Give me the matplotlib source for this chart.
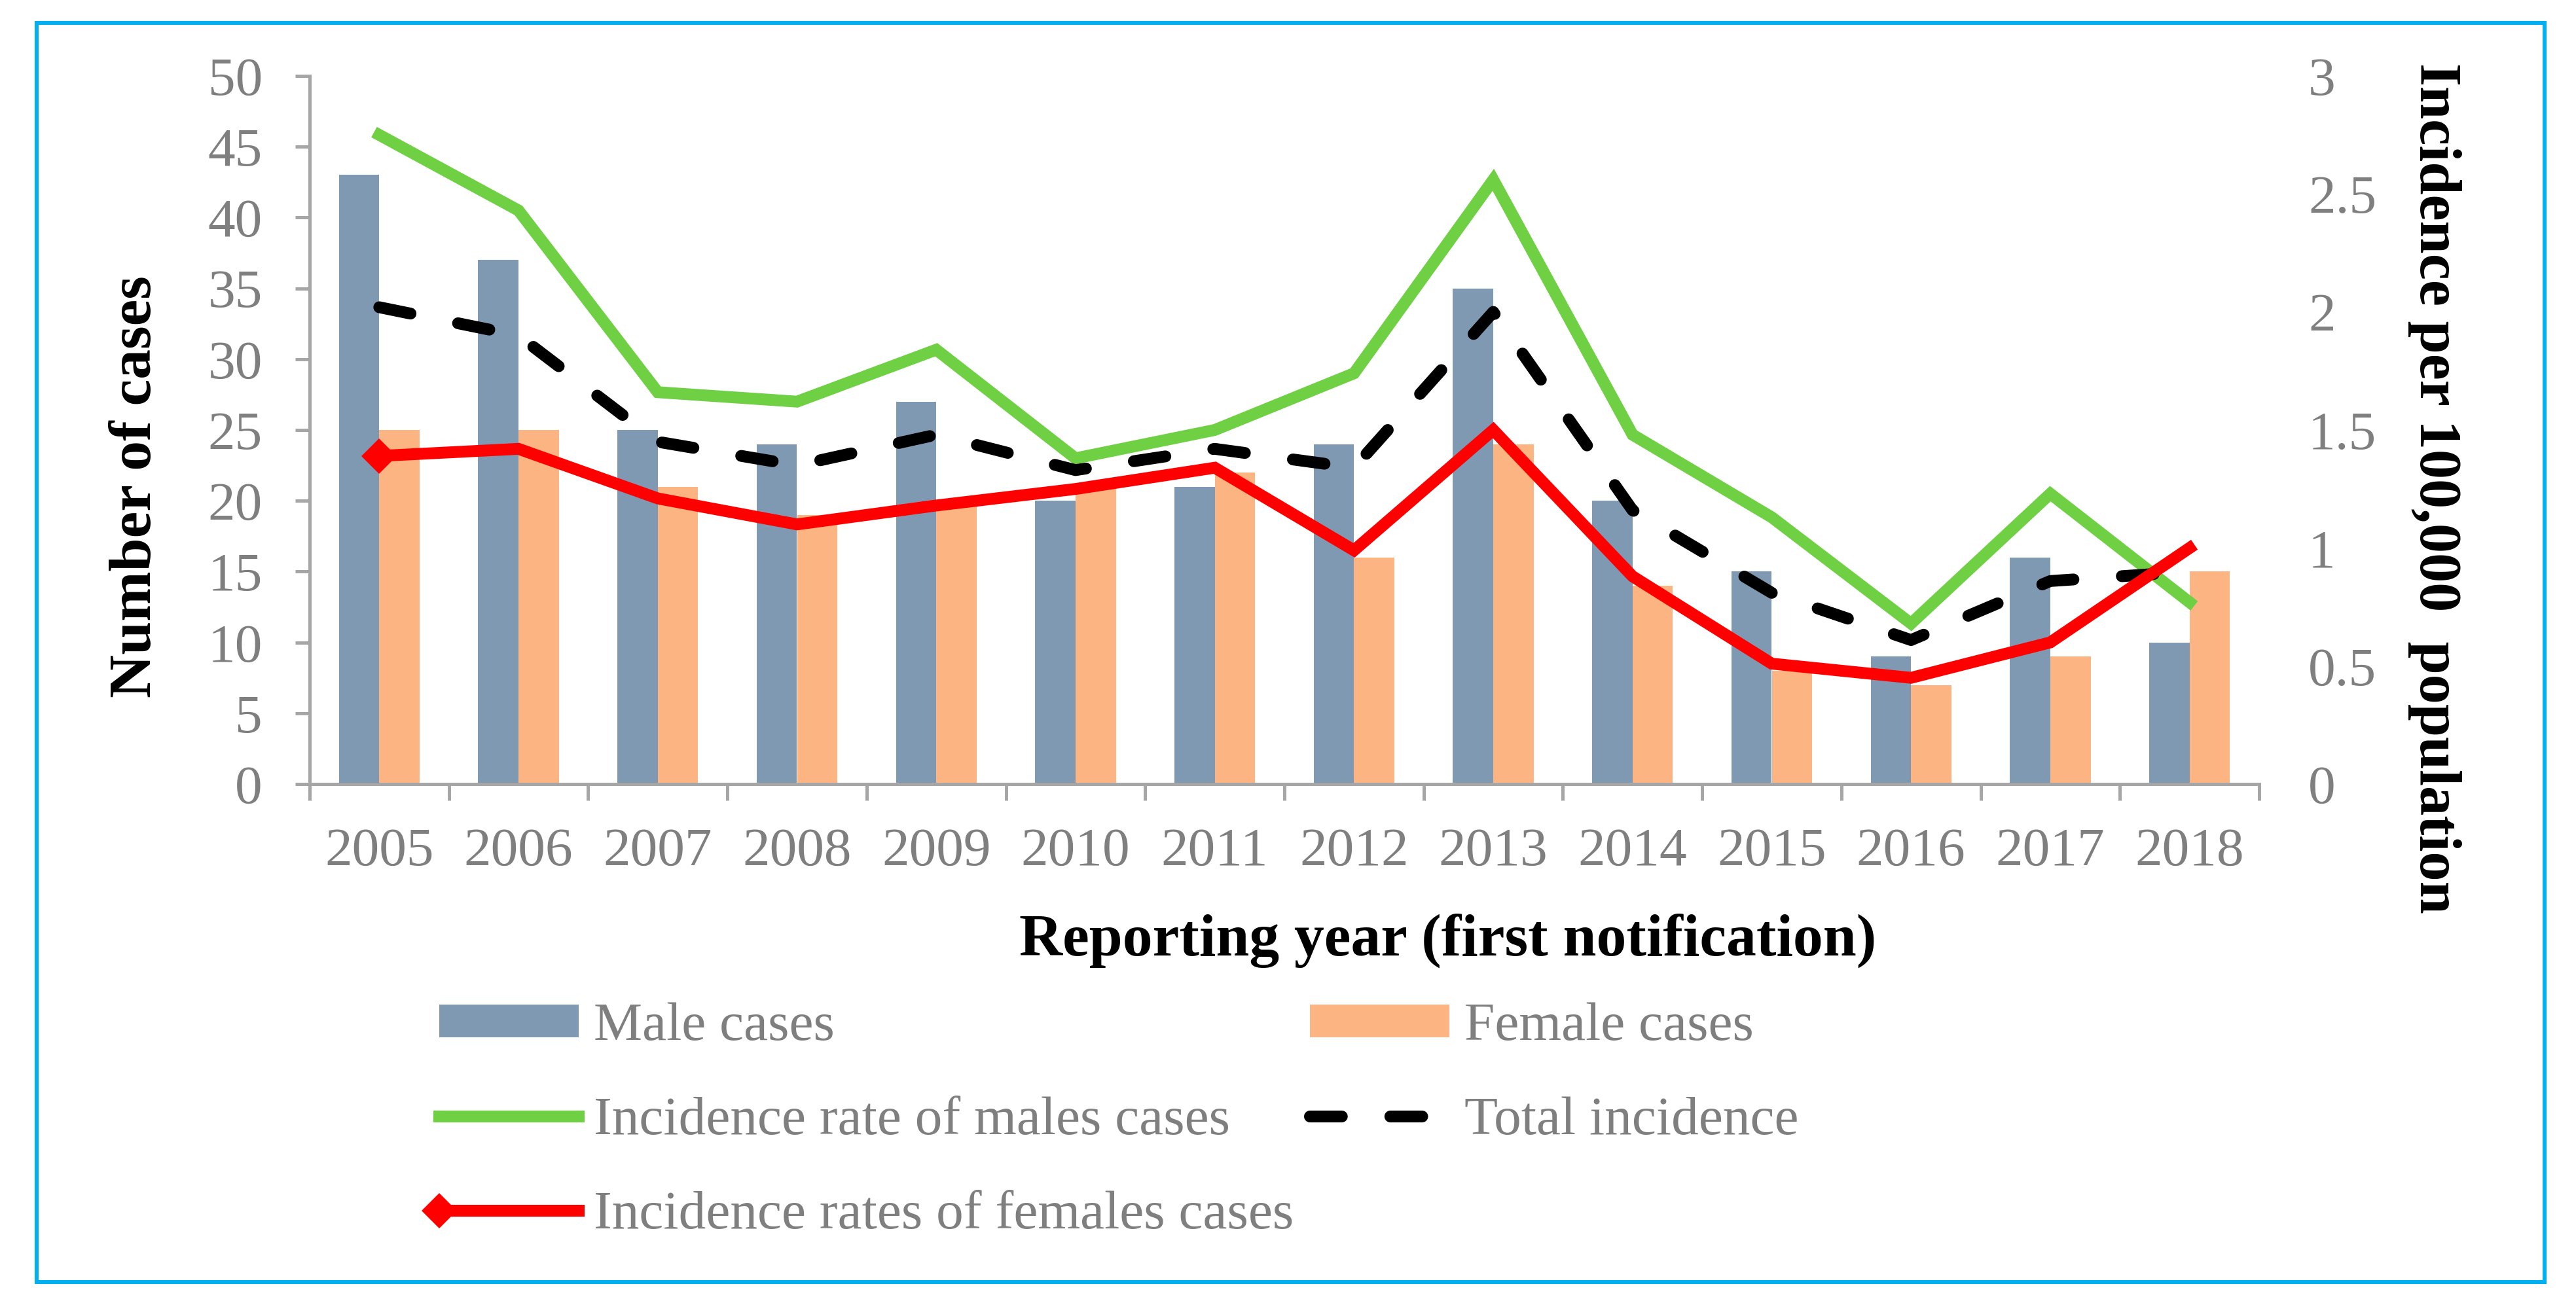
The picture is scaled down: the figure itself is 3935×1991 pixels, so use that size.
import matplotlib
matplotlib.use("Agg")
import matplotlib.pyplot as plt
import numpy as np
from matplotlib.legend_handler import HandlerLine2D
from matplotlib.lines import Line2D
from matplotlib.patches import Rectangle

plt.rcParams["font.family"] = ["Liberation Serif", "DejaVu Serif"]

years = ["2005", "2006", "2007", "2008", "2009", "2010", "2011",
         "2012", "2013", "2014", "2015", "2016", "2017", "2018"]
male_cases = [43, 37, 25, 24, 27, 20, 21, 24, 35, 20, 15, 9, 16, 10]
female_cases = [25, 25, 21, 19, 20, 21, 22, 16, 24, 14, 8, 7, 9, 15]
male_rate = [2.75, 2.43, 1.66, 1.62, 1.84, 1.38, 1.50, 1.74, 2.56, 1.48,
             1.13, 0.68, 1.23, 0.77]
total_rate = [2.02, 1.90, 1.45, 1.35, 1.48, 1.33, 1.42, 1.34, 2.00, 1.16,
              0.81, 0.61, 0.86, 0.90]
female_rate = [1.39, 1.42, 1.21, 1.10, 1.18, 1.25, 1.34, 0.99, 1.50, 0.88,
               0.51, 0.45, 0.60, 1.00]

GRAY_TXT = "#7F7F7F"
GRAY_AX = "#A6A6A6"
C_MALE = "#7F99B3"
C_FEMALE = "#FDB483"
C_GREEN = "#6FD044"
C_RED = "#FF0000"
FS = 60
W, H = 3935, 1991


class LeftMarkerHandler(HandlerLine2D):
    # line with the diamond at its left end, the way Excel draws it
    def create_artists(self, legend, orig_handle, xdescent, ydescent,
                       width, height, fontsize, trans):
        y = (height - ydescent) / 2
        line = Line2D([-xdescent, -xdescent + width], [y, y])
        self.update_prop(line, orig_handle, legend)
        line.set_marker("")
        line.set_transform(trans)
        mark = Line2D([-xdescent], [y])
        self.update_prop(mark, orig_handle, legend)
        mark.set_linestyle("None")
        mark.set_markevery(None)
        mark.set_transform(trans)
        return [line, mark]


fig = plt.figure(figsize=(W / 100, H / 100), dpi=100)
ax = fig.add_axes([473 / W, 1 - 1198 / H, (3451 - 473) / W, (1198 - 116) / H])

x = np.arange(len(years))
bw = 0.29
b_male = ax.bar(x - bw / 2, male_cases, bw, color=C_MALE, label="Male cases")
b_female = ax.bar(x + bw / 2, female_cases, bw, color=C_FEMALE, label="Female cases")

ax.set_xlim(-0.5, len(years) - 0.5)
ax.set_ylim(0, 50)
ax.set_yticks(np.arange(0, 51, 5))
ax.set_xticks(np.arange(len(years) + 1) - 0.5)
ax.set_xticklabels([])
ax.set_xticks(x, minor=True)
ax.set_xticklabels(years, minor=True)

for s in ["top", "right"]:
    ax.spines[s].set_visible(False)
for s in ["left", "bottom"]:
    ax.spines[s].set_color(GRAY_AX)
    ax.spines[s].set_linewidth(3.6)

ax.tick_params(axis="y", length=16, width=3.6, color=GRAY_AX, pad=36,
               labelsize=FS, labelcolor=GRAY_TXT)
ax.tick_params(axis="x", which="major", length=18, width=3.6, color=GRAY_AX)
ax.tick_params(axis="x", which="minor", length=0, pad=48,
               labelsize=FS, labelcolor=GRAY_TXT)

ax2 = ax.twinx()
ax2.set_ylim(0, 3)
ax2.set_yticks(np.arange(0, 3.01, 0.5))
ax2.set_yticklabels(["0", "0.5", "1", "1.5", "2", "2.5", "3"])
for s in ax2.spines.values():
    s.set_visible(False)
ax2.tick_params(axis="y", length=0, pad=54, labelsize=FS, labelcolor=GRAY_TXT)

l_green, = ax2.plot(x, male_rate, color=C_GREEN, lw=13, solid_joinstyle="miter",
                    label="Incidence rate of males cases")
l_total, = ax2.plot(x, total_rate, color="black", lw=13, dashes=(2.7, 4.1),
                    dash_capstyle="round", label="Total incidence")
l_red, = ax2.plot(x, female_rate, color=C_RED, lw=13, marker="D", ms=27,
                  mew=0, markevery=[0], solid_joinstyle="miter",
                  label="Incidence rates of females cases")

fig.text(208 / W, 1 - 744 / H, "Number of cases", rotation=90, fontsize=66,
         fontweight="bold", ha="center", va="center")
fig.text(3719 / W, 1 - 746 / H, "Incidence per 100,000  population", rotation=270,
         fontsize=65, fontweight="bold", ha="center", va="center")
fig.text(2212 / W, 1 - 1437 / H, "Reporting year (first notification)", fontsize=66,
         fontweight="bold", ha="center", va="center")

handles = [b_male, l_green, l_red, b_female, l_total]
labels = [h.get_label() for h in handles]
fig.legend(handles, labels, ncol=2, loc="upper left",
           bbox_to_anchor=(671 / W, 1 - 1532 / H), frameon=False,
           fontsize=FS, labelcolor=GRAY_TXT, borderpad=0, borderaxespad=0,
           handlelength=2.55, handleheight=0.55, handletextpad=0.28,
           columnspacing=0.3, labelspacing=0.82,
           handler_map={l_red: LeftMarkerHandler()})

fig.patches.append(Rectangle((56 / W, 1 - 1959 / H), (3887 - 56) / W, (1959 - 35) / H,
                             transform=fig.transFigure, fill=False,
                             edgecolor="#00B0F0", lw=4.3))

fig.savefig("out.png", dpi=100, facecolor="white")
